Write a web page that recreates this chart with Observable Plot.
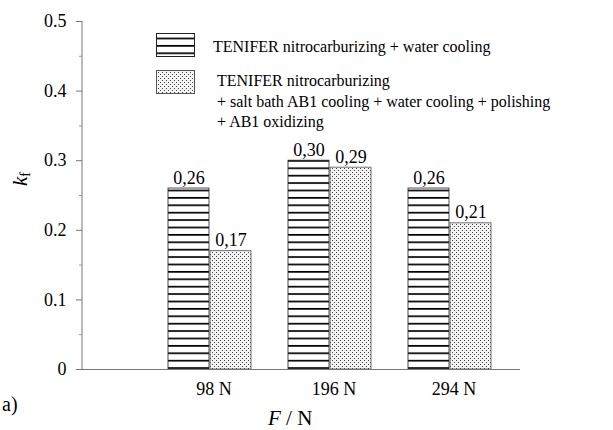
<!DOCTYPE html>
<html>
<head>
<meta charset="utf-8">
<script src="https://cdn.jsdelivr.net/npm/d3@7"></script>
<script src="https://cdn.jsdelivr.net/npm/@observablehq/plot@0.6"></script>
<style>
  body { margin: 0; background: #fff; }
  #chart {
    position: relative; width: 613px; height: 430px;
    font-family: "Liberation Serif", "Times New Roman", serif; color: #000;
  }
  #chart svg text { font-family: "Liberation Serif", "Times New Roman", serif; }
  #chart .abs { position: absolute; white-space: nowrap; }
  .swatch { position: absolute; width: 39px; height: 24px; }
  .legend-text { font-size: 16px; line-height: 20.5px; }
  .ylabel { font-size: 21px; transform: rotate(-90deg); transform-origin: center; }
  .ylabel sub { font-size: 14px; font-style: normal; vertical-align: -3px; }
</style>
</head>
<body>
<div id="chart"></div>
<script>
// Friction coefficient k_f for three normal loads and two surface treatments
const forces = ["98 N", "196 N", "294 N"];
const seriesKeys = ["water", "oxidized"];
const seriesNames = [
  "TENIFER nitrocarburizing + water cooling",
  "TENIFER nitrocarburizing\n+ salt bath AB1 cooling + water cooling + polishing\n+ AB1 oxidizing"
];
const waterCooled = [0.26, 0.30, 0.26];
const oxidized = [0.17, 0.29, 0.21];

const yTicks = [0, 0.1, 0.2, 0.3, 0.4, 0.5];
const yTickLabels = ["0", "0.1", "0.2", "0.3", "0.4", "0.5"];
const yMinorTicks = [0.05, 0.15, 0.25, 0.35, 0.45];

const rowsWater = forces.map((f, i) => ({force: f, series: seriesKeys[0], value: waterCooled[i]}));
const rowsOxidized = forces.map((f, i) => ({force: f, series: seriesKeys[1], value: oxidized[i]}));

// decimal comma labels
const fmt = d => d3.format(".2f")(d).replace(".", ",");

const fills = {water: "url(#stripes)", oxidized: "url(#dots)"};
const serif = "'Liberation Serif', 'Times New Roman', serif";

// Shared SVG patterns: horizontal stripes and a fine stipple
function patterns() {
  const defs = d3.create("svg:defs");
  const s = defs.append("pattern").attr("id", "stripes")
    .attr("patternUnits", "userSpaceOnUse").attr("width", 8).attr("height", 7.4);
  s.append("rect").attr("width", 8).attr("height", 7.4).attr("fill", "#fff");
  s.append("rect").attr("y", 4.6).attr("width", 8).attr("height", 1.7).attr("fill", "#000");
  const d = defs.append("pattern").attr("id", "dots")
    .attr("patternUnits", "userSpaceOnUse").attr("width", 4).attr("height", 4);
  d.append("rect").attr("width", 4).attr("height", 4).attr("fill", "#f3f3f3");
  d.append("rect").attr("x", 0).attr("y", 0).attr("width", 1).attr("height", 1).attr("fill", "#444");
  d.append("rect").attr("x", 2).attr("y", 2).attr("width", 1).attr("height", 1).attr("fill", "#444");
  return defs.node();
}

// Vertical axis line along the left edge of the frame
function yAxisLine(index, {y}, values, dims) {
  return d3.create("svg:line")
    .attr("x1", dims.marginLeft).attr("x2", dims.marginLeft)
    .attr("y1", y(yTicks[0])).attr("y2", y(yTicks[yTicks.length - 1]))
    .attr("stroke", "#777").attr("stroke-width", 1)
    .node();
}

const half = 42;

const plot = Plot.plot({
  width: 613,
  height: 430,
  marginLeft: 82,
  marginRight: 93,
  marginTop: 21,
  marginBottom: 61,
  style: {fontFamily: serif, fontSize: "18px", background: "#fff", overflow: "visible"},
  x: {domain: forces, paddingInner: 0.306, paddingOuter: 0.467, align: 0.75},
  y: {domain: [0, 0.5]},
  marks: [
    patterns,
    Plot.barY(rowsWater, {x: "force", y: "value", fill: fills.water, stroke: "#222", strokeWidth: 0.8, insetRight: half}),
    Plot.barY(rowsOxidized, {x: "force", y: "value", fill: fills.oxidized, stroke: "#555", strokeWidth: 0.8, insetLeft: half}),
    Plot.text(rowsWater, {x: "force", y: "value", text: d => fmt(d.value), dx: -half / 2, dy: -5, lineAnchor: "bottom", fontSize: 18, fontFamily: serif}),
    Plot.text(rowsOxidized, {x: "force", y: "value", text: d => fmt(d.value), dx: half / 2, dy: -5, lineAnchor: "bottom", fontSize: 18, fontFamily: serif}),
    Plot.ruleY([0], {stroke: "#777", strokeWidth: 1}),
    yAxisLine,
    Plot.axisY(yTicks, {tickSize: 6, tickPadding: 10, stroke: "#777", fill: "#000", fontSize: 18, fontFamily: serif,
      tickFormat: d => yTickLabels[yTicks.indexOf(d)], label: null}),
    Plot.axisY(yMinorTicks, {tickSize: 3, stroke: "#999", tickFormat: () => "", label: null}),
    Plot.axisX({tickSize: 0, tickPadding: 13, fontSize: 18, fontFamily: serif, dx: 4, label: null})
  ]
});

const chart = document.getElementById("chart");
chart.appendChild(plot);

function addDiv(cls, html, left, top) {
  const el = document.createElement("div");
  el.className = "abs " + cls;
  el.innerHTML = html;
  el.style.left = left + "px";
  el.style.top = top + "px";
  chart.appendChild(el);
  return el;
}

// Legend: pattern swatches next to the treatment descriptions
function swatch(key, left, top) {
  const ns = "http://www.w3.org/2000/svg";
  const svg = document.createElementNS(ns, "svg");
  svg.setAttribute("class", "swatch");
  svg.setAttribute("width", 39); svg.setAttribute("height", 24);
  svg.style.left = left + "px"; svg.style.top = top + "px";
  svg.style.position = "absolute";
  const r = document.createElementNS(ns, "rect");
  r.setAttribute("x", 0.5); r.setAttribute("y", 0.5);
  r.setAttribute("width", 38); r.setAttribute("height", 23);
  r.setAttribute("fill", fills[key]); r.setAttribute("stroke", key === "water" ? "#222" : "#555");
  svg.appendChild(r);
  chart.appendChild(svg);
}
swatch(seriesKeys[0], 156, 33);
swatch(seriesKeys[1], 156, 70);
addDiv("legend-text", seriesNames[0], 213, 37);
addDiv("legend-text", seriesNames[1].split("\n").join("<br>"), 217, 71);

// Axis titles and panel tag
addDiv("", "<i>F</i> / N", 268, 406).style.fontSize = "21px";
addDiv("ylabel", "<i>k</i><sub>f</sub>", 14, 166);
addDiv("", "a)", 2, 393).style.fontSize = "20px";
</script>
</body>
</html>
